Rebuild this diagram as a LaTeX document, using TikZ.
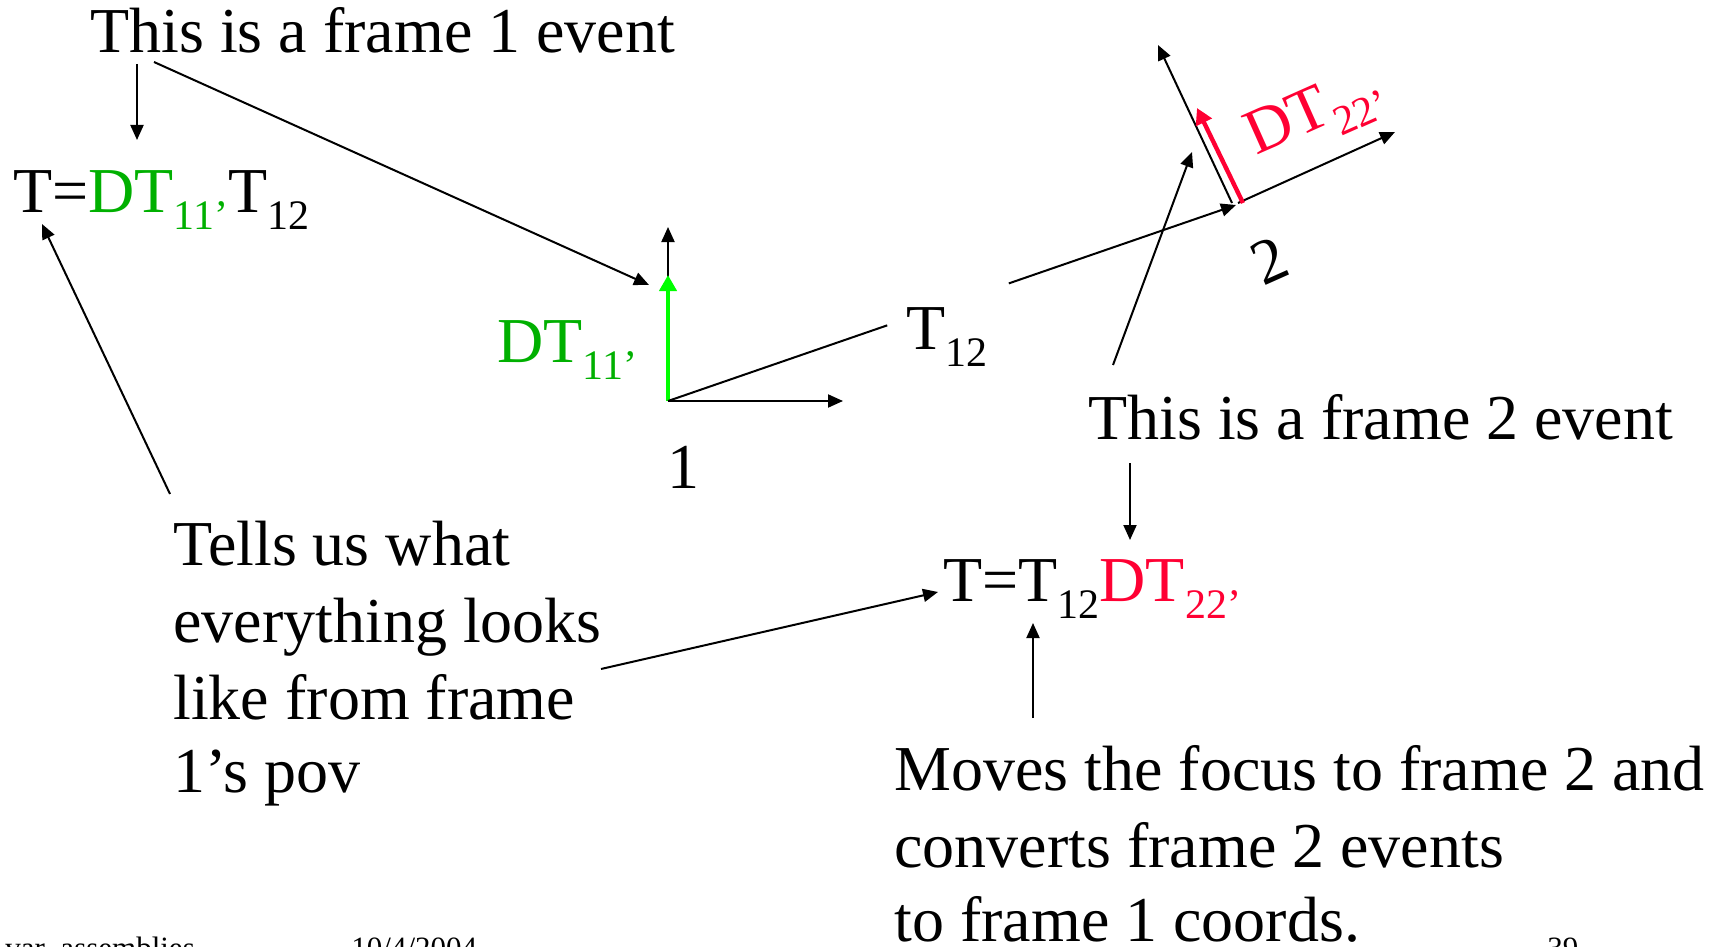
\documentclass[tikz,border=0pt]{standalone}
\usepackage{fontspec}
\setmainfont{Liberation Serif}
\usepackage{xcolor}
\usetikzlibrary{arrows.meta, positioning, calc}
\definecolor{frameonegreen}{RGB}{0,176,0}
\definecolor{axisgreen}{RGB}{0,255,0}
\definecolor{frametwored}{RGB}{255,0,51}
\newcommand{\lsub}[1]{\raisebox{-8.5pt}{\fontsize{21}{24}\selectfont #1}}

\begin{document}
\begin{tikzpicture}[x=0.5pt, y=-0.5pt]
  \tikzset{txt/.style={inner sep=0pt, anchor=base west,
                       font=\fontsize{32}{38}\selectfont}}
  \tikzset{arr/.style={line width=1pt, -{Triangle[length=7.5pt, width=6.5pt]}}}
  \tikzset{fat/.style={line width=2.2pt, -{Triangle[length=8pt, width=8.5pt]}}}
  \tikzset{foot/.style={inner sep=0pt, anchor=base west,
                        font=\fontsize{15.5}{18}\selectfont}}
  \useasboundingbox (0,0) rectangle (1720,947);

  % Frame 1 side
  \node[txt] (title1) at (90,53) {This is a frame 1 event};
  \node[txt] (eq1) at (13,213) {T=\textcolor{frameonegreen}{DT\lsub{11'}}T\lsub{12}};
  \foreach \words/\y [count=\i] in {Tells us what/565, everything looks/642,
                                    like from frame/719, 1's pov/792}{
    \node[txt] (tells\i) at (173,\y) {\words};
  }

  % Frame 1 axes
  \coordinate (O1) at (668,401);
  \draw[arr] (O1) -- ($(O1)+(175,0)$);
  \draw[arr] (O1) -- ($(O1)+(0,-174)$);
  \draw[fat, draw=axisgreen, fill=axisgreen] (O1) -- ($(O1)+(0,-126)$);
  \node[txt, text=frameonegreen] (dt11) at (497,362) {DT\lsub{11'}};
  \node[txt, anchor=base] (one) at (683,488) {1};

  % Frame 2 axes (tilted 24 degrees)
  \coordinate (O2) at (1236,205);
  \draw[arr] ($(O2)+(2,-2)$) -- ($(O2)+(159,-73)$);
  \draw[arr] ($(O2)+(-4,-2)$) -- ($(O2)+(-78,-160)$);
  \draw[fat, draw=frametwored, fill=frametwored] ($(O2)+(7,-2)$) -- ($(O2)+(-39,-97)$);
  \node[txt, text=frametwored, rotate=24] (dt22) at (1256,156) {DT\lsub{22'}};
  \node[txt, anchor=base, rotate=24] (two) at (1278,280) {2};

  % T12 between the two frames
  \node[txt] (t12) at (906,349) {T\lsub{12}};
  \draw[line width=1pt] (O1) -- ($(O1)!0.386!(O2)$);
  \draw[arr] ($(O1)!0.6!(O2)$) -- (O2);

  % Frame 2 side
  \node[txt] (title2) at (1088,439) {This is a frame 2 event};
  \node[txt] (eq2) at (943,601) {T=T\lsub{12}\textcolor{frametwored}{DT\lsub{22'}}};
  \foreach \words/\y [count=\i] in {Moves the focus to frame 2 and/790,
                                    converts frame 2 events/867,
                                    to frame 1 coords./941}{
    \node[txt] (moves\i) at (894,\y) {\words};
  }

  % Pointers
  \draw[arr] ($(title1.base west)+(47,11)$) -- ($(eq1.base west)+(124,-73)$);
  \draw[arr] ($(title1.base west)+(64,9)$) -- ($(O1)+(-19,-116)$);
  \draw[arr] ($(tells1.base west)+(-3,-71)$) -- ($(eq1.base west)+(29,11)$);
  \draw[arr] ($(tells2.base west)+(428,27)$) -- ($(eq2.base west)+(-5,-9)$);
  \draw[arr] ($(title2.base west)+(25,-74)$) -- ($(O2)+(-44,-53)$);
  \draw[arr] ($(title2.base west)+(42,24)$) -- ($(eq2.base west)+(187,-61)$);
  \draw[arr] ($(moves1.base west)+(139,-72)$) -- ($(eq2.base west)+(90,22)$);

  % Footer, cut by the page edge
  \node[foot] (file) at (5,958) {var\_assemblies};
  \node[foot] (date) at (351,958) {10/4/2004};
  \node[foot] (page) at (1547,958) {39};
\end{tikzpicture}
\end{document}
